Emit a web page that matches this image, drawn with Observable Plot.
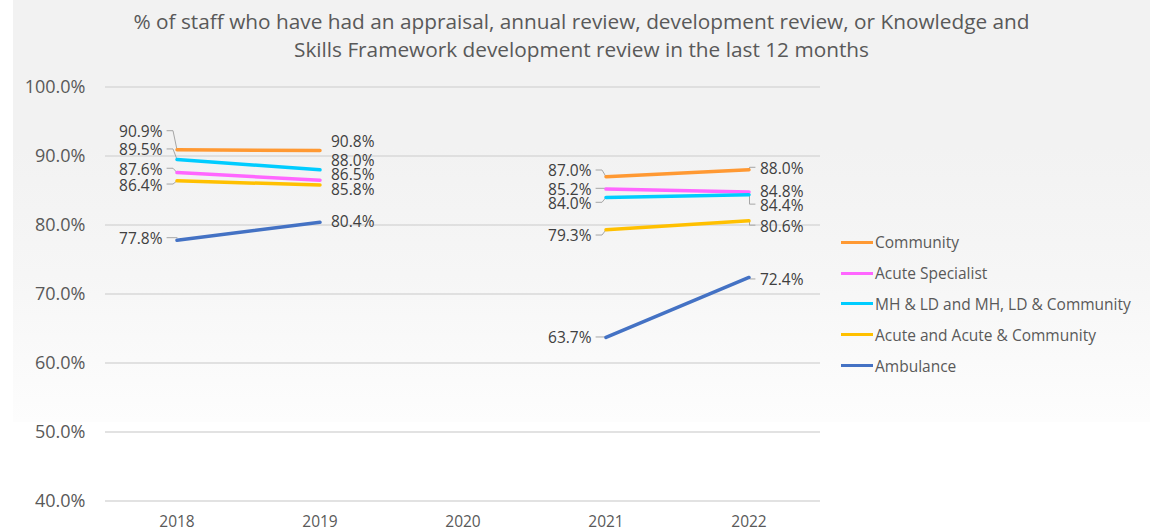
<!DOCTYPE html>
<html>
<head>
<meta charset="utf-8">
<script src="https://cdn.jsdelivr.net/npm/d3@7"></script>
<script src="https://cdn.jsdelivr.net/npm/@observablehq/plot@0.6"></script>
<style>
  html, body { margin: 0; padding: 0; background: #fff; overflow: hidden; }
  #wrap { position: relative; width: 1156px; height: 531px; font-family: "Open Sans", sans-serif; }
  #panel { position: absolute; left: 13px; top: 0; width: 1137px; height: 422px;
           background: linear-gradient(to bottom, #f2f2f2 0%, #f2f2f2 35%, #f6f6f6 65%, #fdfdfd 100%); }
  #title { position: relative; height: 72px; box-sizing: border-box; padding-top: 7px; padding-left: 7px;
           text-align: center; font-size: 20.8px; line-height: 28px; color: #595959; white-space: nowrap; }
  #chart { position: relative; }
  #legend { position: absolute; left: 841px; top: 227px; font-size: 15.5px; color: #595959; }
  .row { height: 30.8px; display: flex; align-items: center; white-space: nowrap; }
  .sw { width: 32px; height: 3px; margin-right: 2px; }
</style>
</head>
<body>
<div id="wrap">
  <div id="panel"></div>
  <div id="title">% of staff who have had an appraisal, annual review, development review, or Knowledge and<br>Skills Framework development review in the last 12 months</div>
  <div id="chart"></div>
  <div id="legend"></div>
</div>
<script>
// ---- data ----
const years = [2018, 2019, 2020, 2021, 2022];
const seriesNames = ["Community", "Acute Specialist", "MH & LD and MH, LD & Community", "Acute and Acute & Community", "Ambulance"];
const community       = [90.9, 90.8, null, 87.0, 88.0];
const acuteSpecialist = [87.6, 86.5, null, 85.2, 84.8];
const mhLd            = [89.5, 88.0, null, 84.0, 84.4];
const acuteCommunity  = [86.4, 85.8, null, 79.3, 80.6];
const ambulance       = [77.8, 80.4, null, 63.7, 72.4];
const yTicks = [40, 50, 60, 70, 80, 90, 100];

// ---- styles / layout ----
const colors = ["#FF9933", "#FF66FF", "#00CCFF", "#FFC000", "#4472C4"];
const W = 1156, H = 459, mT = 14.5, mB = 30.5, mL = 105, mR = 336;
const yDom = [40, 100], xDom = [2017.5, 2022.5];
const ky = (H - mT - mB) / (yDom[1] - yDom[0]);   // px per %
const kx = (W - mL - mR) / (xDom[1] - xDom[0]);   // px per year
// label vertical offsets (px) relative to the point, per series index
const labelDy = {
  2018: [-17.6, -2.8, -9, 4.7, -1],
  2019: [-8.3, -5.6, -8.3, 5.5, 0],
  2021: [-5.2, 0.7, 6.4, 6.7, 1],
  2022: [-1, 0, 11, 5.8, 3]
};
const leftYears = new Set([2018, 2021]);

const allSeries = [community, acuteSpecialist, mhLd, acuteCommunity, ambulance];
const rows = [];
allSeries.forEach((vals, si) => years.forEach((yr, i) => rows.push({series: seriesNames[si], si, year: yr, value: vals[i]})));
const pts = rows.filter(d => d.value != null);

const labels = pts.map(d => ({...d, ly: d.value - labelDy[d.year][d.si] / ky, text: d.value.toFixed(1) + "%"}));

const leaders = [];
labels.forEach((d, k) => {
  const dy = labelDy[d.year][d.si];
  const lyl = d.value - (dy - 1.5) / ky;
  const id = "L" + k;
  if (leftYears.has(d.year)) {
    if (Math.abs(dy) < 2.5) {
      leaders.push({id, x: d.year - 10 / kx, y: lyl}, {id, x: d.year, y: lyl});
    } else {
      leaders.push({id, x: d.year - 10 / kx, y: lyl}, {id, x: d.year - 4 / kx, y: lyl}, {id, x: d.year, y: d.value});
    }
  } else if (d.year === 2022 && Math.abs(dy) >= 1) {
    leaders.push({id, x: d.year + 0.5 / kx, y: d.value}, {id, x: d.year + 0.5 / kx, y: lyl}, {id, x: d.year + 6 / kx, y: lyl});
  }
});

const chart = Plot.plot({
  width: W, height: H,
  marginTop: mT, marginBottom: mB, marginLeft: mL, marginRight: mR,
  style: {background: "transparent", fontFamily: "Open Sans, sans-serif", overflow: "visible"},
  x: {type: "linear", domain: xDom},
  y: {domain: yDom},
  color: {domain: seriesNames, range: colors},
  marks: [
    Plot.ruleY(yTicks, {stroke: "#d9d9d9", strokeWidth: 1.3}),
    Plot.axisY(yTicks, {tickSize: 0, tickPadding: 20, fontSize: 18, fill: "#595959", tickFormat: d => d.toFixed(1) + "%", label: null}),
    Plot.axisX(years, {tickSize: 0, tickPadding: 15, fontSize: 15.5, fill: "#595959", tickFormat: d => String(d), label: null}),
    Plot.line(leaders, {x: "x", y: "y", z: "id", stroke: "#a6a6a6", strokeWidth: 1, curve: "linear"}),
    Plot.line(rows, {x: "year", y: "value", z: "series", stroke: "series", strokeWidth: 3.5, curve: "linear"}),
    Plot.text(labels.filter(d => leftYears.has(d.year)), {x: "year", y: "ly", text: "text", textAnchor: "end", dx: -14.5, fontSize: 15.5, fill: "#404040"}),
    Plot.text(labels.filter(d => !leftYears.has(d.year)), {x: "year", y: "ly", text: "text", textAnchor: "start", dx: 11, fontSize: 15.5, fill: "#404040"})
  ]
});
document.getElementById("chart").appendChild(chart);

const legend = document.getElementById("legend");
seriesNames.forEach((n, i) => {
  const r = document.createElement("div");
  r.className = "row";
  r.innerHTML = `<span class="sw" style="background:${colors[i]}"></span><span>${n.replace(/&/g, "&amp;")}</span>`;
  legend.appendChild(r);
});
</script>
</body>
</html>
